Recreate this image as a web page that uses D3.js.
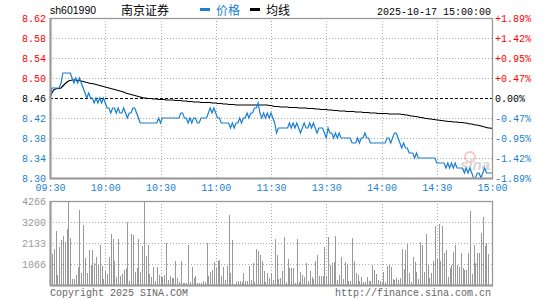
<!DOCTYPE html>
<meta charset="utf-8">
<style>
    body { margin: 0; background: #fff; }
    svg { display: block; }
    .mono { font-family: "Liberation Mono", "DejaVu Sans Mono", monospace; font-size: 10px; }
</style>
<svg width="545" height="300"></svg>
<script src="https://cdn.jsdelivr.net/npm/d3@7"></script>
<script>

    // minute prices 09:30 .. 11:30, 13:01 .. 15:00 (241 points)
    var prices = [
        8.46, 8.48, 8.48, 8.48, 8.48, 8.48, 8.49, 8.51, 8.51, 8.51,
        8.51, 8.51, 8.50, 8.49, 8.50, 8.49, 8.50, 8.49, 8.48, 8.47,
        8.46, 8.47, 8.46, 8.46, 8.45, 8.46, 8.45, 8.46, 8.45, 8.46,
        8.45, 8.44, 8.44, 8.43, 8.44, 8.44, 8.43, 8.44, 8.43, 8.43,
        8.44, 8.43, 8.42, 8.43, 8.43, 8.44, 8.44, 8.43, 8.42, 8.41,
        8.41, 8.41, 8.41, 8.41, 8.41, 8.41, 8.41, 8.41, 8.41, 8.42,
        8.41, 8.42, 8.42, 8.42, 8.42, 8.42, 8.42, 8.42, 8.42, 8.42,
        8.42, 8.43, 8.43, 8.42, 8.42, 8.41, 8.42, 8.41, 8.42, 8.42,
        8.41, 8.41, 8.42, 8.42, 8.42, 8.42, 8.43, 8.44, 8.43, 8.44,
        8.43, 8.42, 8.42, 8.41, 8.41, 8.41, 8.41, 8.41, 8.40, 8.41,
        8.40, 8.41, 8.41, 8.42, 8.41, 8.42, 8.42, 8.43, 8.42, 8.43,
        8.43, 8.44, 8.44, 8.45, 8.43, 8.42, 8.43, 8.42, 8.43, 8.42,
        8.43, 8.42, 8.41, 8.39, 8.40, 8.40, 8.40, 8.40, 8.40, 8.40,
        8.41, 8.40, 8.41, 8.40, 8.41, 8.40, 8.39, 8.40, 8.41, 8.40,
        8.40, 8.41, 8.40, 8.41, 8.40, 8.39, 8.40, 8.40, 8.40, 8.39,
        8.38, 8.40, 8.39, 8.39, 8.38, 8.39, 8.38, 8.39, 8.38, 8.38,
        8.38, 8.38, 8.38, 8.38, 8.37, 8.37, 8.37, 8.38, 8.37, 8.38,
        8.38, 8.39, 8.38, 8.38, 8.37, 8.37, 8.37, 8.37, 8.37, 8.37,
        8.37, 8.37, 8.37, 8.38, 8.38, 8.37, 8.38, 8.39, 8.39, 8.38,
        8.37, 8.36, 8.37, 8.36, 8.36, 8.35, 8.35, 8.35, 8.34, 8.35,
        8.34, 8.34, 8.34, 8.34, 8.34, 8.34, 8.34, 8.34, 8.34, 8.34,
        8.33, 8.33, 8.33, 8.33, 8.33, 8.32, 8.33, 8.32, 8.33, 8.32,
        8.33, 8.32, 8.32, 8.32, 8.32, 8.31, 8.32, 8.31, 8.32, 8.31,
        8.30, 8.30, 8.31, 8.31, 8.30, 8.31, 8.32, 8.31, 8.31, 8.31,
        8.31
    ];

    // running average price (均线)
    var avgPrices = [
        8.460, 8.470, 8.476, 8.478, 8.479, 8.479, 8.480, 8.484, 8.488, 8.491,
        8.494, 8.495, 8.496, 8.496, 8.496, 8.495, 8.495, 8.494, 8.493, 8.492,
        8.491, 8.490, 8.489, 8.489, 8.488, 8.487, 8.486, 8.485, 8.484, 8.483,
        8.482, 8.481, 8.480, 8.479, 8.478, 8.477, 8.476, 8.475, 8.474, 8.473,
        8.472, 8.470, 8.469, 8.468, 8.467, 8.466, 8.465, 8.464, 8.463, 8.462,
        8.461, 8.460, 8.460, 8.459, 8.459, 8.459, 8.458, 8.458, 8.458, 8.457,
        8.457, 8.457, 8.457, 8.456, 8.456, 8.456, 8.456, 8.456, 8.455, 8.455,
        8.455, 8.455, 8.454, 8.454, 8.454, 8.453, 8.453, 8.453, 8.452, 8.452,
        8.452, 8.452, 8.451, 8.451, 8.451, 8.451, 8.451, 8.451, 8.450, 8.450,
        8.450, 8.449, 8.449, 8.449, 8.448, 8.448, 8.448, 8.447, 8.447, 8.447,
        8.447, 8.446, 8.446, 8.446, 8.446, 8.446, 8.446, 8.446, 8.446, 8.446,
        8.446, 8.446, 8.446, 8.446, 8.446, 8.446, 8.446, 8.446, 8.446, 8.445,
        8.445, 8.444, 8.443, 8.443, 8.443, 8.442, 8.442, 8.442, 8.442, 8.442,
        8.441, 8.441, 8.441, 8.441, 8.441, 8.440, 8.440, 8.440, 8.440, 8.440,
        8.439, 8.439, 8.439, 8.439, 8.438, 8.438, 8.438, 8.437, 8.437, 8.437,
        8.437, 8.436, 8.436, 8.436, 8.435, 8.435, 8.435, 8.434, 8.434, 8.434,
        8.434, 8.433, 8.433, 8.433, 8.433, 8.433, 8.432, 8.432, 8.432, 8.432,
        8.431, 8.431, 8.431, 8.431, 8.430, 8.430, 8.430, 8.430, 8.429, 8.429,
        8.429, 8.429, 8.429, 8.429, 8.428, 8.428, 8.428, 8.428, 8.428, 8.428,
        8.428, 8.427, 8.427, 8.426, 8.426, 8.425, 8.424, 8.424, 8.423, 8.423,
        8.422, 8.421, 8.421, 8.420, 8.419, 8.419, 8.418, 8.418, 8.417, 8.417,
        8.416, 8.416, 8.415, 8.415, 8.414, 8.414, 8.413, 8.413, 8.413, 8.412,
        8.412, 8.412, 8.411, 8.411, 8.411, 8.410, 8.410, 8.409, 8.408, 8.408,
        8.407, 8.406, 8.406, 8.405, 8.404, 8.403, 8.402, 8.401, 8.400, 8.400,
        8.399
    ];

    // minute volume (lots)
    var volumes = [
        423, 1574, 1828, 2743, 508, 1930, 2286, 2489, 2201, 2844,
        4266, 2404, 305, 305, 508, 914, 3809, 593, 3047, 1371,
        626, 1778, 999, 1778, 1100, 1439, 999, 2032, 965, 305,
        711, 542, 1439, 2590, 2319, 1219, 423, 2319, 474, 542,
        762, 880, 3200, 203, 2590, 2540, 660, 847, 2336, 677,
        1981, 4266, 1490, 2032, 576, 406, 931, 203, 931, 508,
        423, 423, 508, 2116, 254, 474, 372, 372, 1219, 372,
        169, 1219, 119, 119, 119, 2032, 169, 914, 372, 474,
        119, 119, 119, 203, 169, 2116, 474, 643, 762, 1151,
        847, 1219, 1253, 457, 914, 254, 965, 3555, 626, 2286,
        68, 169, 203, 203, 169, 626, 203, 203, 982, 254,
        1134, 135, 1828, 1727, 1524, 1219, 711, 169, 593, 339,
        609,
        254, 2336, 1524, 305, 339, 711, 2438, 169, 1321, 880,
        880, 880, 119, 2336, 169, 677, 508, 423, 1117, 203,
        711, 423, 305, 1219, 1524, 474, 474, 474, 1930, 474,
        2438, 1016, 1117, 1185, 2489, 254, 508, 1422, 305, 1151,
        1050, 203, 203, 2387, 1219, 609, 508, 203, 423, 169,
        169, 423, 203, 203, 1016, 762, 542, 254, 203, 169,
        643, 152, 965, 1016, 914, 305, 271, 372, 237, 372,
        1828, 813, 1778, 2099, 609, 169, 1422, 1151, 643, 305,
        2184, 2032, 643, 2573, 1016, 372, 609, 1219, 3014, 1321,
        3115, 1219, 3014, 1625, 1778, 423, 847, 1016, 1693, 2032,
        1016, 931, 1608, 880, 762, 762, 1625, 3758, 576, 2032,
        1100, 1625, 1625, 2624, 3454, 1981, 2116, 1574, 0, 0
    ];

    var preClose = 8.46;
    var priceTicks = [8.62, 8.58, 8.54, 8.50, 8.46, 8.42, 8.38, 8.34, 8.30];
    var pctTicks = ["+1.89%", "+1.42%", "+0.95%", "+0.47%", "0.00%", "-0.47%", "-0.95%", "-1.42%", "-1.89%"];
    var timeIdx = [0, 30, 60, 90, 120, 150, 180, 210, 240];
    var timeLabels = ["09:30", "10:00", "10:30", "11:00", "11:30", "13:30", "14:00", "14:30", "15:00"];
    var volTicks = [4266, 3200, 2133, 1066];

    var red = "#ff0000", blue = "#1a7fd2", grey = "#999";

    var svg = d3.select("svg"),
        left = 50, right = 492,
        pTop = 18, pBot = 178,
        vTop = 201, vBot = 285;

    var x = d3.scaleLinear().domain([0, 240]).range([left, right]);
    var y = d3.scaleLinear().domain([8.30, 8.62]).range([pBot, pTop]);
    var yv = d3.scaleLinear().domain([0, 4266]).range([vBot, vTop]);

    function tickColor(p) {
        return p > preClose ? red : (p < preClose ? blue : "#000");
    }

    // grid lines
    var grid = svg.append("g").attr("shape-rendering", "crispEdges");
    grid.selectAll(".hp")
        .data(priceTicks.filter(function(d) { return d !== 8.62 && d !== 8.30; }))
        .enter().append("line")
        .attr("x1", left).attr("x2", right)
        .attr("y1", function(d) { return Math.round(y(d)) + 0.5; })
        .attr("y2", function(d) { return Math.round(y(d)) + 0.5; })
        .attr("stroke", function(d) { return d === preClose ? "#000" : "#aaa"; })
        .attr("stroke-dasharray", function(d) { return d === preClose ? "3,2" : "1,2"; });
    grid.selectAll(".hv")
        .data(volTicks.slice(1))
        .enter().append("line")
        .attr("x1", left).attr("x2", right)
        .attr("y1", function(d) { return Math.round(yv(d)) + 0.5; })
        .attr("y2", function(d) { return Math.round(yv(d)) + 0.5; })
        .attr("stroke", "#aaa").attr("stroke-dasharray", "1,2");
    grid.selectAll(".vx")
        .data(timeIdx.slice(1, -1))
        .enter().append("g")
        .each(function(d) {
            var gx = Math.round(x(d)) + 0.5;
            d3.select(this).append("line")
                .attr("x1", gx).attr("x2", gx).attr("y1", pTop).attr("y2", pBot)
                .attr("stroke", "#aaa").attr("stroke-dasharray", "1,2");
            d3.select(this).append("line")
                .attr("x1", gx).attr("x2", gx).attr("y1", vTop).attr("y2", vBot)
                .attr("stroke", "#aaa").attr("stroke-dasharray", "1,2");
        });

    // sina watermark
    var wm = svg.append("g").attr("opacity", 0.3);
    wm.append("circle").attr("cx", 470).attr("cy", 157).attr("r", 5)
        .attr("fill", "none").attr("stroke", "#e05050").attr("stroke-width", 2);
    wm.append("text").attr("x", 460).attr("y", 170)
        .attr("font-family", "Liberation Sans, sans-serif").attr("font-size", 15)
        .attr("font-style", "italic").attr("font-weight", "bold")
        .attr("fill", "#777").text("sina");

    // volume bars
    svg.append("g").attr("shape-rendering", "crispEdges")
        .selectAll("rect")
        .data(volumes)
        .enter().append("rect")
        .attr("x", function(d, i) { return Math.round(x(i)); })
        .attr("width", 1)
        .attr("y", function(d) { return yv(d); })
        .attr("height", function(d) { return vBot - yv(d); })
        .attr("fill", grey);

    // lines
    var line = d3.line()
        .x(function(d, i) { return x(i); })
        .y(function(d) { return y(d); });

    svg.append("path").datum(avgPrices)
        .attr("d", line).attr("fill", "none")
        .attr("stroke", "#000").attr("stroke-width", 1.2);
    svg.append("path").datum(prices)
        .attr("d", line).attr("fill", "none")
        .attr("stroke", blue).attr("stroke-width", 1.2);

    // frames
    [[pTop, pBot], [vTop, vBot]].forEach(function(r) {
        svg.append("rect")
            .attr("x", left + 0.5).attr("y", r[0] + 0.5)
            .attr("width", right - left).attr("height", r[1] - r[0])
            .attr("fill", "none").attr("stroke", grey).attr("stroke-width", 1.3);
        svg.append("line").attr("x1", left + 0.5).attr("x2", left + 0.5)
            .attr("y1", r[0]).attr("y2", r[1] + 1)
            .attr("stroke", grey).attr("stroke-width", 2);
        svg.append("line").attr("x1", left).attr("x2", right + 1)
            .attr("y1", r[1] + 0.5).attr("y2", r[1] + 0.5)
            .attr("stroke", grey).attr("stroke-width", 2);
    });

    // axes
    function styleAxis(g) {
        g.select(".domain").remove();
        g.selectAll("line").remove();
        g.attr("font-family", "Liberation Mono, DejaVu Sans Mono, monospace").attr("font-size", 10);
    }

    svg.append("g")
        .attr("transform", "translate(" + left + ",0)")
        .call(d3.axisLeft(y).tickValues(priceTicks).tickSize(0).tickPadding(4)
            .tickFormat(d3.format(".2f")))
        .call(styleAxis)
        .selectAll("text").attr("fill", function(d) { return tickColor(d); });

    svg.append("g")
        .attr("transform", "translate(" + (right + 2) + ",0)")
        .call(d3.axisRight(y).tickValues(priceTicks).tickSize(0).tickPadding(1)
            .tickFormat(function(d, i) { return pctTicks[i]; }))
        .call(styleAxis)
        .selectAll("text").attr("fill", function(d) { return tickColor(d); });

    svg.append("g")
        .attr("transform", "translate(0," + (pBot + 4) + ")")
        .call(d3.axisBottom(x).tickValues(timeIdx).tickSize(0).tickPadding(2)
            .tickFormat(function(d, i) { return timeLabels[i]; }))
        .call(styleAxis)
        .selectAll("text").attr("fill", blue);

    svg.append("g")
        .attr("transform", "translate(" + left + ",0)")
        .call(d3.axisLeft(yv).tickValues(volTicks).tickSize(0).tickPadding(4))
        .call(styleAxis)
        .selectAll("text").attr("fill", grey).text(function(d) { return d; });

    // header
    svg.append("text").attr("x", left).attr("y", 14)
        .attr("font-family", "Liberation Sans, Arial, sans-serif").attr("font-size", 10.5)
        .text("sh601990");
    svg.append("text").attr("x", 121).attr("y", 14.5)
        .attr("font-family", "Noto Sans CJK SC").attr("font-size", 12)
        .text("南京证券");
    svg.append("rect").attr("x", 200).attr("y", 8).attr("width", 10).attr("height", 3).attr("fill", blue);
    svg.append("text").attr("x", 216).attr("y", 14.5)
        .attr("font-family", "Noto Sans CJK SC").attr("font-size", 12)
        .attr("fill", blue).text("价格");
    svg.append("rect").attr("x", 250).attr("y", 8).attr("width", 10).attr("height", 3).attr("fill", "#000");
    svg.append("text").attr("x", 266).attr("y", 14.5)
        .attr("font-family", "Noto Sans CJK SC").attr("font-size", 12)
        .text("均线");
    svg.append("text").attr("class", "mono").attr("x", 491).attr("y", 14.5)
        .attr("text-anchor", "end").text("2025-10-17 15:00:00");

    // footer
    svg.append("text").attr("class", "mono").attr("x", left).attr("y", 296)
        .attr("fill", "#666").text("Copyright 2025 SINA.COM");
    svg.append("text").attr("class", "mono").attr("x", 491).attr("y", 296)
        .attr("text-anchor", "end").attr("fill", "#666").text("http://finance.sina.com.cn");

</script>
